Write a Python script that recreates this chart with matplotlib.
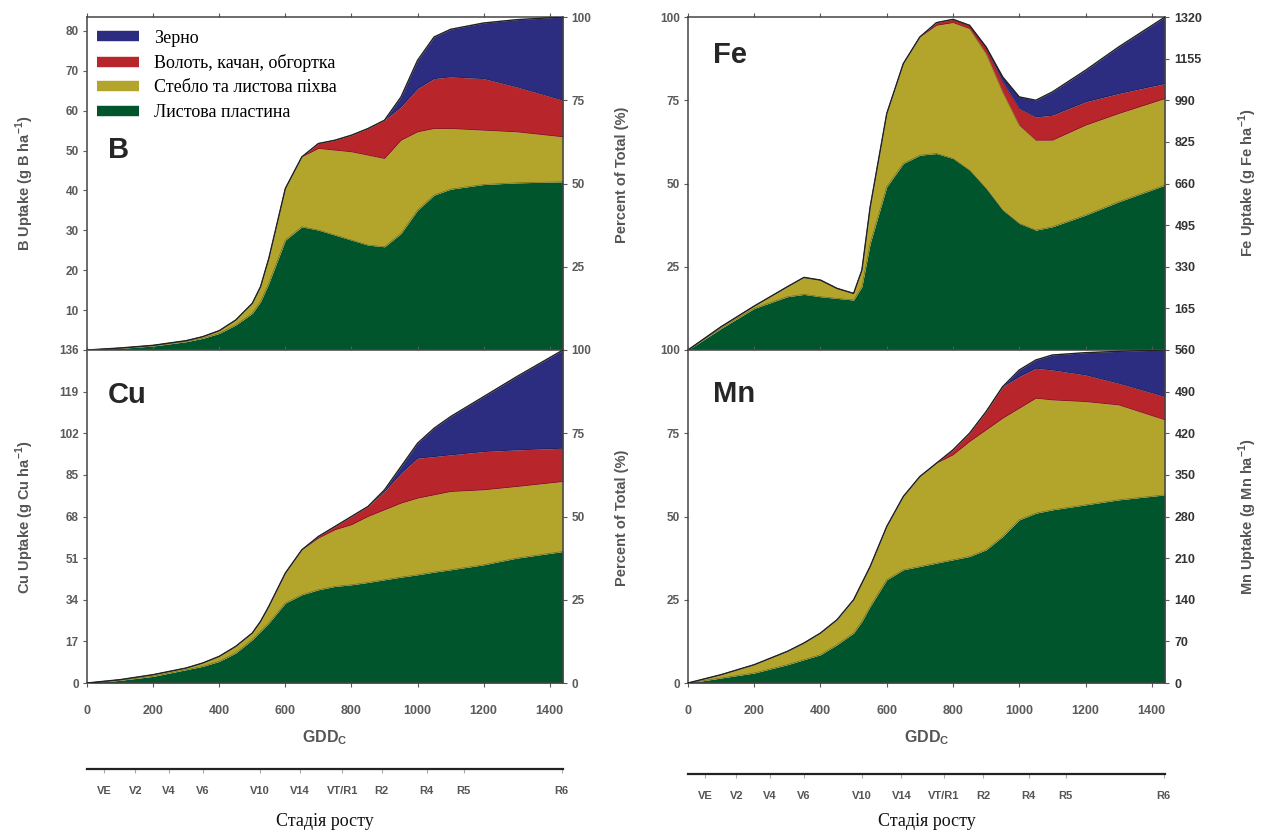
import matplotlib
matplotlib.use("Agg")
import matplotlib.pyplot as plt
from matplotlib.lines import Line2D

plt.rcParams["font.family"] = ["Liberation Sans", "DejaVu Sans"]
plt.rcParams["mathtext.fontset"] = "custom"
plt.rcParams["mathtext.bf"] = "Liberation Sans:bold"
plt.rcParams["mathtext.rm"] = "Liberation Sans:bold"

gdd = [0, 100, 200, 300, 350, 400, 450, 500, 525, 550, 600, 650, 700, 750,
       800, 850, 900, 950, 1000, 1050, 1100, 1200, 1300, 1440]

# cumulative upper boundaries of each layer, percent of total uptake
# order: leaf blade, +stem & sheath, +tassel/cob/husk, +grain
b_leaf = [0, 0.5, 1.2, 2.5, 3.5, 5, 7.5, 11, 14.5, 20, 33, 37, 36, 34.5,
          33, 31.5, 31, 35, 42, 46.5, 48.3, 49.7, 50.2, 50.5]
b_stem = [0, 0.6, 1.4, 2.8, 4, 5.8, 9, 14, 19, 27.5, 48.5, 58, 60.5, 60,
          59.5, 58.5, 57.5, 63, 65.5, 66.5, 66.5, 66, 65.5, 64]
b_ear = [0, 0.6, 1.4, 2.8, 4, 5.8, 9, 14, 19, 27.5, 48.5, 58, 62, 63,
         64.5, 66.5, 69, 73, 78.5, 81.5, 82, 81.5, 79, 75]
b_grain = [0, 0.6, 1.4, 2.8, 4, 5.8, 9, 14, 19, 27.5, 48.5, 58, 62, 63,
           64.5, 66.5, 69, 76, 87, 94, 96.3, 98.2, 99.2, 100]

fe_leaf = [0, 6.5, 12.5, 16, 16.7, 16, 15.5, 15, 19, 32, 49, 56, 58.5, 59,
           57.5, 54, 48.5, 42, 38, 36, 37, 40.5, 44.5, 49.5]
fe_stem = [0, 7, 13.2, 19, 21.8, 21, 18.5, 17, 24, 43, 71, 86, 94, 97.5,
           98.3, 96.5, 89, 77.5, 67.5, 63, 63, 67.5, 71, 75.5]
fe_ear = [0, 7, 13.2, 19, 21.8, 21, 18.5, 17, 24, 43, 71, 86, 94, 98.3,
          99.3, 97.5, 90.5, 80.5, 72.5, 70, 70.5, 74.5, 77, 80]
fe_grain = [0, 7, 13.2, 19, 21.8, 21, 18.5, 17, 24, 43, 71, 86, 94, 98.3,
            99.3, 97.5, 91, 82, 76, 75, 77.5, 84, 91, 100]

cu_leaf = [0, 0.8, 2, 4, 5, 6.5, 9, 13, 15.5, 18, 24, 26.5, 28, 29,
           29.5, 30.2, 31, 31.8, 32.5, 33.3, 34, 35.5, 37.5, 39.5]
cu_stem = [0, 1, 2.5, 4.5, 6, 8, 11, 15, 18.5, 23, 33, 40, 43.5, 46,
           47.5, 50, 52, 54, 55.5, 56.5, 57.5, 58, 59, 60.5]
cu_ear = [0, 1, 2.5, 4.5, 6, 8, 11, 15, 18.5, 23, 33, 40, 44, 47,
          50, 53, 57.5, 63, 67.5, 68, 68.5, 69.5, 70, 70.5]
cu_grain = [0, 1, 2.5, 4.5, 6, 8, 11, 15, 18.5, 23, 33, 40, 44, 47,
            50, 53, 58, 65, 72, 76.5, 80, 86, 92, 100]

mn_leaf = [0, 1.5, 3, 5.5, 7, 8.5, 11.5, 15, 18.5, 23, 31, 34, 35, 36,
           37, 38, 40, 44, 49, 51, 52, 53.5, 55, 56.5]
mn_stem = [0, 2.5, 5.5, 9.5, 12, 15, 19, 25, 30, 35, 47, 56, 62, 66,
           68.5, 72.5, 76, 79.5, 82.5, 85.5, 85, 84.5, 83.5, 79]
mn_ear = [0, 2.5, 5.5, 9.5, 12, 15, 19, 25, 30, 35, 47, 56, 62, 66,
          70, 75, 81.5, 89, 92, 94.5, 94, 92.5, 90, 86]
mn_grain = [0, 2.5, 5.5, 9.5, 12, 15, 19, 25, 30, 35, 47, 56, 62, 66,
            70, 75, 81.5, 89, 94, 97, 98.5, 99.2, 99.6, 100]

# uptake axis maxima (= 100 % of total)
b_max, fe_max, cu_max, mn_max = 83.5, 1320, 136, 560

stage_names = ["VE", "V2", "V4", "V6", "V10", "V14", "VT/R1", "R2", "R4", "R5", "R6"]
stage_gdd = [52, 146, 248, 350, 524, 644, 772, 892, 1028, 1140, 1436]

layer_names = ["Зерно", "Волоть, качан, обгортка", "Стебло та листова піхва",
               "Листова пластина"]
c_green, c_yellow, c_red, c_blue = "#00552d", "#b3a52c", "#b8262b", "#2c2d80"

W, H = 1261, 836
fig = plt.figure(figsize=(W / 100, H / 100), dpi=100)
fig.patch.set_facecolor("white")

TICK_C = "#5a5a5a"
SPINE_C = "#444444"


def px(x0, y0, x1, y1):
    return [x0 / W, 1 - y1 / H, (x1 - x0) / W, (y1 - y0) / H]


def panel(rect, bounds, letter, letter_y, umax, uticks, left_col, top_row):
    ax = fig.add_axes(rect)
    lo = [0] * len(gdd)
    for top, col in zip(bounds, [c_green, c_yellow, c_red, c_blue]):
        ax.fill_between(gdd, lo, top, color=col, lw=0, zorder=2)
        ax.plot(gdd, top, color="black", lw=0.5, alpha=0.35, zorder=3)
        lo = top
    ax.plot(gdd, bounds[-1], color="#222222", lw=1.0, zorder=4)
    ax.set_xlim(0, 1440)
    ax.set_ylim(0, 100)
    ax.set_xticks(range(0, 1401, 200))
    ax.tick_params(axis="x", direction="out", length=3, color=TICK_C,
                   top=True, labelsize=9, labelcolor=TICK_C, pad=13)
    for lab in ax.get_xticklabels():
        lab.set_fontweight("bold")
    if top_row:
        ax.tick_params(axis="x", labelbottom=False)
    for s in ax.spines.values():
        s.set_color(SPINE_C)
        s.set_linewidth(1.1)

    ax2 = ax.twinx()
    ax2.set_ylim(0, umax)
    ax2.set_yticks(uticks)
    pct_ticks = [25, 50, 75, 100] if top_row else [0, 25, 50, 75, 100]
    ax.set_yticks(pct_ticks)
    if left_col:
        ax.yaxis.tick_right()
        ax2.yaxis.tick_left()
    for a in (ax, ax2):
        a.tick_params(axis="y", direction="out", length=3, color=TICK_C,
                      labelsize=8.5, labelcolor=TICK_C, pad=3)
        for lab in a.get_yticklabels():
            lab.set_fontweight("bold")
    if not left_col:
        ax2.tick_params(axis="y", labelcolor="#333333", labelsize=9, pad=4)
    ax2.spines[:].set_visible(False)

    lx = 0.044 if left_col else 0.052
    ax.text(lx, letter_y, letter, transform=ax.transAxes, fontsize=21,
            fontweight="bold", color="#262626", ha="left", va="center",
            zorder=5)
    if not top_row:
        ax.set_xlabel(r"GDD$_\mathbf{C}$", fontsize=11.5, fontweight="bold",
                      color="#555555", labelpad=8)
    return ax


ax_b = panel(px(87, 17, 563, 350), [b_leaf, b_stem, b_ear, b_grain], "B", 0.60,
             b_max, range(10, 81, 10), True, True)
ax_fe = panel(px(688, 17, 1165, 350), [fe_leaf, fe_stem, fe_ear, fe_grain], "Fe", 0.886,
              fe_max, range(165, 1321, 165), False, True)
ax_cu = panel(px(87, 350, 563, 683), [cu_leaf, cu_stem, cu_ear, cu_grain], "Cu", 0.865,
              cu_max, range(0, 137, 17), True, False)
ax_mn = panel(px(688, 350, 1165, 683), [mn_leaf, mn_stem, mn_ear, mn_grain], "Mn", 0.868,
              mn_max, range(0, 561, 70), False, False)

# legend
handles = [Line2D([], [], color=c, lw=7.5, solid_capstyle="butt")
           for c in [c_blue, c_red, c_yellow, c_green]]
ax_b.legend(handles, layer_names, loc="upper left", bbox_to_anchor=(0.021, 0.962),
            frameon=False, borderpad=0, borderaxespad=0, handlelength=2.3,
            handletextpad=0.85, labelspacing=0.41,
            prop={"family": "Liberation Serif", "size": 13})

# axis titles
lab_kw = dict(rotation=90, ha="center", va="center", fontsize=10.5,
              fontweight="bold", color="#555555")
fig.text(25 / W, 1 - 183 / H, r"B Uptake (g B ha$^{-1}$)", **lab_kw)
fig.text(25 / W, 1 - 517 / H, r"Cu Uptake (g Cu ha$^{-1}$)", **lab_kw)
fig.text(622 / W, 1 - 175 / H, "Percent of Total (%)", **lab_kw)
fig.text(622 / W, 1 - 518 / H, "Percent of Total (%)", **lab_kw)
fig.text(1248 / W, 1 - 183 / H, r"Fe Uptake (g Fe ha$^{-1}$)", **lab_kw)
fig.text(1248 / W, 1 - 517 / H, r"Mn Uptake (g Mn ha$^{-1}$)", **lab_kw)

# growth stage axes
for x0, x1, yl in [(87, 563, 769), (688, 1165, 774)]:
    ax_s = fig.add_axes([x0 / W, 1 - yl / H, (x1 - x0) / W, 0.0005])
    ax_s.set_xlim(0, 1440)
    for k in ("top", "left", "right"):
        ax_s.spines[k].set_visible(False)
    ax_s.spines["bottom"].set_color("#222222")
    ax_s.spines["bottom"].set_linewidth(1.6)
    ax_s.set_yticks([])
    ax_s.set_xticks(stage_gdd)
    ax_s.set_xticklabels(stage_names)
    ax_s.tick_params(axis="x", direction="out", length=3, color="#aaaaaa",
                     labelsize=8, labelcolor="#555555", pad=9)
    for lab in ax_s.get_xticklabels():
        lab.set_fontweight("bold")
    ax_s.patch.set_visible(False)
    fig.text((x0 + x1) / 2 / W, 1 - 822 / H, "Стадія росту",
             family="Liberation Serif", fontsize=13, ha="center", va="center",
             color="#111111")

fig.savefig("out.png", dpi=100, facecolor="white")
